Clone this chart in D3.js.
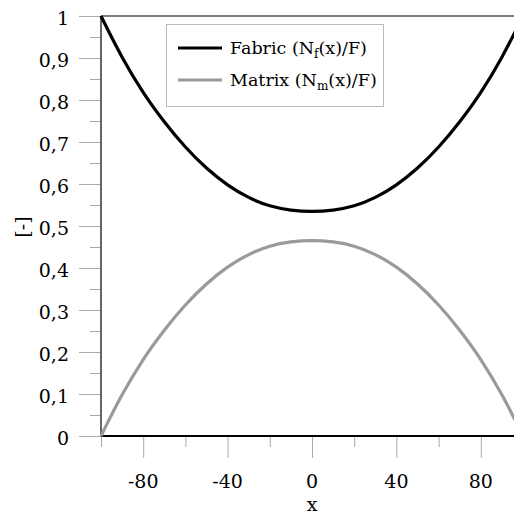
<!DOCTYPE html>
<html><head><meta charset="utf-8">
<script src="https://cdn.jsdelivr.net/npm/d3@7"></script>
<style>body{margin:0;background:#fff}svg{display:block}</style>
</head><body><svg id="c" width="514" height="516"></svg>
<script>
const xs = [-100,-90,-80,-70,-60,-50,-40,-30,-20,-10,0,10,20,30,40,50,60,70,80,90,100];
const fabric = [1,0.902,0.818,0.748,0.688,0.638,0.598,0.568,0.548,0.538,0.535,0.538,0.548,0.568,0.598,0.638,0.688,0.748,0.818,0.902,1];
const matrix = [0,0.098,0.182,0.252,0.312,0.362,0.402,0.432,0.452,0.462,0.465,0.462,0.452,0.432,0.402,0.362,0.312,0.252,0.182,0.098,0];
const xMajor = [-80,-40,0,40,80];
const xMinor = [-100,-60,-20,20,60,100];
const yMajor = [0,0.1,0.2,0.3,0.4,0.5,0.6,0.7,0.8,0.9,1];
const yMinor = [0.05,0.15,0.25,0.35,0.45,0.55,0.65,0.75,0.85,0.95];
const seriesNames = ["Fabric", "Matrix"];

const FF = "DejaVu Serif, serif";
const svg = d3.select("#c").attr("font-family", FF);
const x = d3.scaleLinear().domain([-100,100]).range([101,523]);
const y = d3.scaleLinear().domain([0,1]).range([436,16]);
const fmt = v => d3.format(".1~f")(v).replace(".", ",");

const tc = "#aaa";
function tickAxis(axis, tr){
  svg.append("g").attr("transform",tr).call(axis)
    .call(g=>{g.select(".domain").remove();g.selectAll("line").attr("stroke",tc);g.selectAll("text").remove();});
}
tickAxis(d3.axisBottom(x).tickValues(xMajor).tickSize(22), "translate(0,436)");
tickAxis(d3.axisBottom(x).tickValues(xMinor).tickSize(11), "translate(0,436)");
tickAxis(d3.axisLeft(y).tickValues(yMajor).tickSize(22), "translate(101,0)");
tickAxis(d3.axisLeft(y).tickValues(yMinor).tickSize(11), "translate(101,0)");

svg.selectAll(".yl").data(yMajor).join("text").attr("x",69).attr("y",d=>y(d)+9)
  .attr("text-anchor","end").attr("font-size",19).attr("font-family",FF).attr("fill","#000").text(fmt);
svg.selectAll(".xl").data(xMajor).join("text").attr("x",d=>x(d)).attr("y",488)
  .attr("text-anchor","middle").attr("font-size",19).attr("font-family",FF).attr("fill","#000").text(d=>d);
svg.append("text").attr("x",312).attr("y",511).attr("text-anchor","middle").attr("font-size",19).attr("font-family",FF).text("x");
svg.append("text").attr("transform","translate(29,227) rotate(-90)").attr("text-anchor","middle").attr("font-size",19).attr("font-family",FF).text("[-]");

svg.append("line").attr("x1",101).attr("x2",523).attr("y1",16).attr("y2",16).attr("stroke","#555").attr("stroke-width",1.5);
svg.append("line").attr("x1",101).attr("x2",101).attr("y1",16).attr("y2",436).attr("stroke","#333").attr("stroke-width",1.5);
svg.append("line").attr("x1",101).attr("x2",523).attr("y1",436).attr("y2",436).attr("stroke","#000").attr("stroke-width",2);

const line = d3.line().x((d,i)=>x(xs[i])).y(d=>y(d)).curve(d3.curveMonotoneX);
svg.append("path").datum(matrix).attr("d",line).attr("fill","none").attr("stroke","#9a9a9a").attr("stroke-width",3.2);
svg.append("path").datum(fabric).attr("d",line).attr("fill","none").attr("stroke","#000").attr("stroke-width",3.2);

const lg = svg.append("g");
lg.append("rect").attr("x",166.5).attr("y",24.5).attr("width",217).attr("height",82).attr("fill","#fff").attr("stroke","#bbb").attr("stroke-width",1);
const items = [{name:seriesNames[0],sub:"f",c:"#000",yy:48},{name:seriesNames[1],sub:"m",c:"#9a9a9a",yy:80}];
items.forEach(it=>{
  lg.append("line").attr("x1",178).attr("x2",222).attr("y1",it.yy).attr("y2",it.yy).attr("stroke",it.c).attr("stroke-width",3.2);
  const t = lg.append("text").attr("x",230).attr("y",it.yy+6).attr("font-size",17.5).attr("font-family",FF);
  t.append("tspan").text(it.name+" (N");
  t.append("tspan").attr("font-size",12).attr("dy",4).text(it.sub);
  t.append("tspan").attr("dy",-4).text("(x)/F)");
});
</script></body></html>
